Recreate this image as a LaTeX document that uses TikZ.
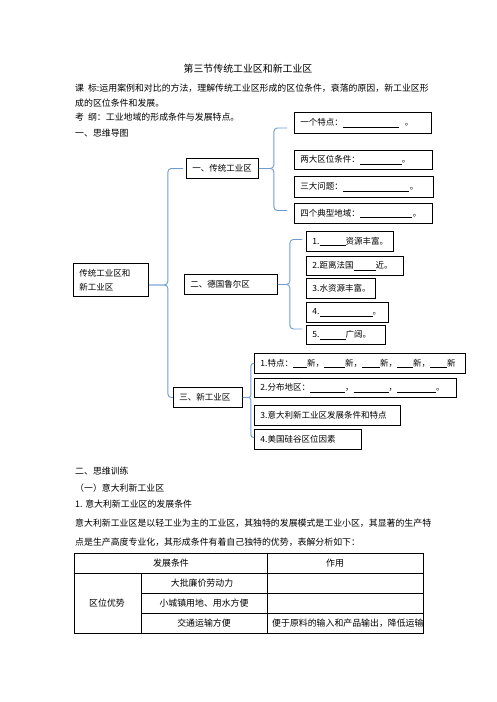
\documentclass[tikz,border=0pt]{standalone}
\usepackage{fontspec}
\setmainfont{Noto Sans CJK SC}
\usetikzlibrary{calc}
\definecolor{braceblue}{RGB}{110,155,212}
\newcommand{\fillblank}[1]{\rule[-1.5pt]{#1}{0.6pt}}

\begin{document}
\begin{tikzpicture}[
        x=1pt, y=-1pt,
        every node/.style={font=\fontsize{8.9pt}{11pt}\selectfont},
        line/.style={anchor=west, inner sep=0pt},
        box/.style={draw, line width=0.9pt, anchor=north west, inner xsep=6pt, inner ysep=0pt, minimum height=20pt, align=left, font=\fontsize{8.5pt}{14pt}\selectfont},
        brace/.style={draw=braceblue, line width=0.9pt, rounded corners=3.5pt},
        cell/.style={inner sep=0pt},
        grid/.style={line width=0.8pt}
    ]
        \useasboundingbox (0,0) rectangle (496,702);

        % Head text
        \node[font=\fontsize{9.9pt}{12pt}\selectfont] (title) at (248,69) {第三节传统工业区和新工业区};
        \node[line] (aim1) at (75,88) {课\ \ 标:运用案例和对比的方法，理解传统工业区形成的区位条件，衰落的原因，新工业区形};
        \node[line] (aim2) at (75,103) {成的区位条件和发展。};
        \node[line] (outline) at (75,117) {考\ \ 纲：工业地域的形成条件与发展特点。};
        \node[line] (part1) at (75,133) {一、思维导图};

        % Mind map nodes
        \node[box, text width=63pt, minimum height=33pt] (root) at (73,263) {传统工业区和\\新工业区};
        \node[box, text width=60pt] (trad) at (186,158) {一、传统工业区};
        \node[box, text width=81pt] (ruhr) at (184,274) {二、德国鲁尔区};
        \node[box, text width=57pt] (newind) at (173,387) {三、新工业区};

        \node[box, text width=125pt, minimum height=21pt] (trait) at (294,112) {一个特点：\fillblank{56pt}\hspace{6pt}。};
        \node[box, text width=126pt, minimum height=19pt] (cond) at (294,150) {两大区位条件：\fillblank{42pt}。};
        \node[box, text width=127pt, minimum height=21pt] (issue) at (294,176) {三大问题：\fillblank{66pt}\hspace{1pt}。};
        \node[box, text width=126pt] (region) at (294,203) {四个典型地域：\fillblank{52pt}\hspace{1pt}。};

        \node[box, text width=75pt] (ruhra) at (306,231) {1.\fillblank{26pt}资源丰富。};
        \node[box, text width=85pt, minimum height=19pt] (ruhrb) at (306,256) {2.距离法国\fillblank{22pt}近。};
        \node[box, text width=57pt] (ruhrc) at (306,278) {3.水资源丰富。};
        \node[box, text width=70pt] (ruhrd) at (306,302) {4.\fillblank{53pt}。};
        \node[box, text width=67pt, minimum height=19pt] (ruhre) at (306,325) {5.\fillblank{26pt}广阔。};

        \node[box, text width=199pt] (newa) at (254,353) {1.特点：\fillblank{14pt}新，\fillblank{21pt}新，\fillblank{18pt}新，\fillblank{16pt}新，\fillblank{17pt}新};
        \node[box, text width=190pt, minimum height=19pt] (newb) at (254,378) {2.分布地区：\fillblank{35pt}，\fillblank{35pt}，\fillblank{39pt}。};
        \node[box, text width=134pt] (newc) at (254,405) {3.意大利新工业区发展条件和特点};
        \node[box, text width=95pt] (newd) at (254,429) {4.美国硅谷区位因素};

        % Braces
        \draw[brace] ([xshift=-3pt]trad.west) -| ($([yshift=-5pt]root.east)+(19,0)$) -- ([yshift=-5pt]root.east);
        \draw[brace] (newind.west) -| ($([yshift=-5pt]root.east)+(19,0)$) -- ([yshift=-5pt]root.east);

        \draw[brace] ([xshift=-7pt,yshift=-5pt]trait.west) -| ($(trad.east)+(15,0)$) -- (trad.east);
        \draw[brace] ([xshift=-7pt,yshift=3pt]region.west) -| ($(trad.east)+(15,0)$) -- (trad.east);

        \draw[brace] ([xshift=-4pt,yshift=2pt]ruhra.west) -| ($(ruhr.east)+(12,0)$) -- (ruhr.east);
        \draw[brace] ([xshift=-4pt,yshift=6pt]ruhre.west) -| ($(ruhr.east)+(12,0)$) -- (ruhr.east);

        \draw[brace, rounded corners=2.5pt] (newa.west) -| ($(newind.east)+(8,0)$) -- (newind.east);
        \draw[brace, rounded corners=2.5pt] ([yshift=2pt]newd.west) -| ($(newind.east)+(8,0)$) -- (newind.east);

        % Training text
        \node[line] (part2) at (75,471) {二、思维训练};
        \node[line] (sec1) at (75,488) {（一）意大利新工业区};
        \node[line] (item1) at (75,504) {1. 意大利新工业区的发展条件};
        \node[line] (para1) at (75,523) {意大利新工业区是以轻工业为主的工业区，其独特的发展模式是工业小区，其显著的生产特};
        \node[line] (para2) at (75,542) {点是生产高度专业化，其形成条件有着自己独特的优势，表解分析如下：};

        % Table
        \draw[grid] (74,553) rectangle (423,633);
        \draw[grid] (74,573) -- (423,573);
        \draw[grid] (141,593) -- (423,593);
        \draw[grid] (141,613) -- (423,613);
        \draw[grid] (141,573) -- (141,633);
        \draw[grid] (267,553) -- (267,633);

        \node[cell] (headcond) at (171,563) {发展条件};
        \node[cell] (headuse) at (335,563) {作用};
        \node[cell] (loc) at (107,603) {区位优势};
        \node[cell] (labour) at (202,583) {大批廉价劳动力};
        \node[cell] (land) at (204,603) {小城镇用地、用水方便};
        \node[cell] (traffic) at (204,623) {交通运输方便};
        \node[cell, anchor=west] (trafficuse) at (272,623) {便于原料的输入和产品输出，降低运输};

    \end{tikzpicture}
\end{document}
